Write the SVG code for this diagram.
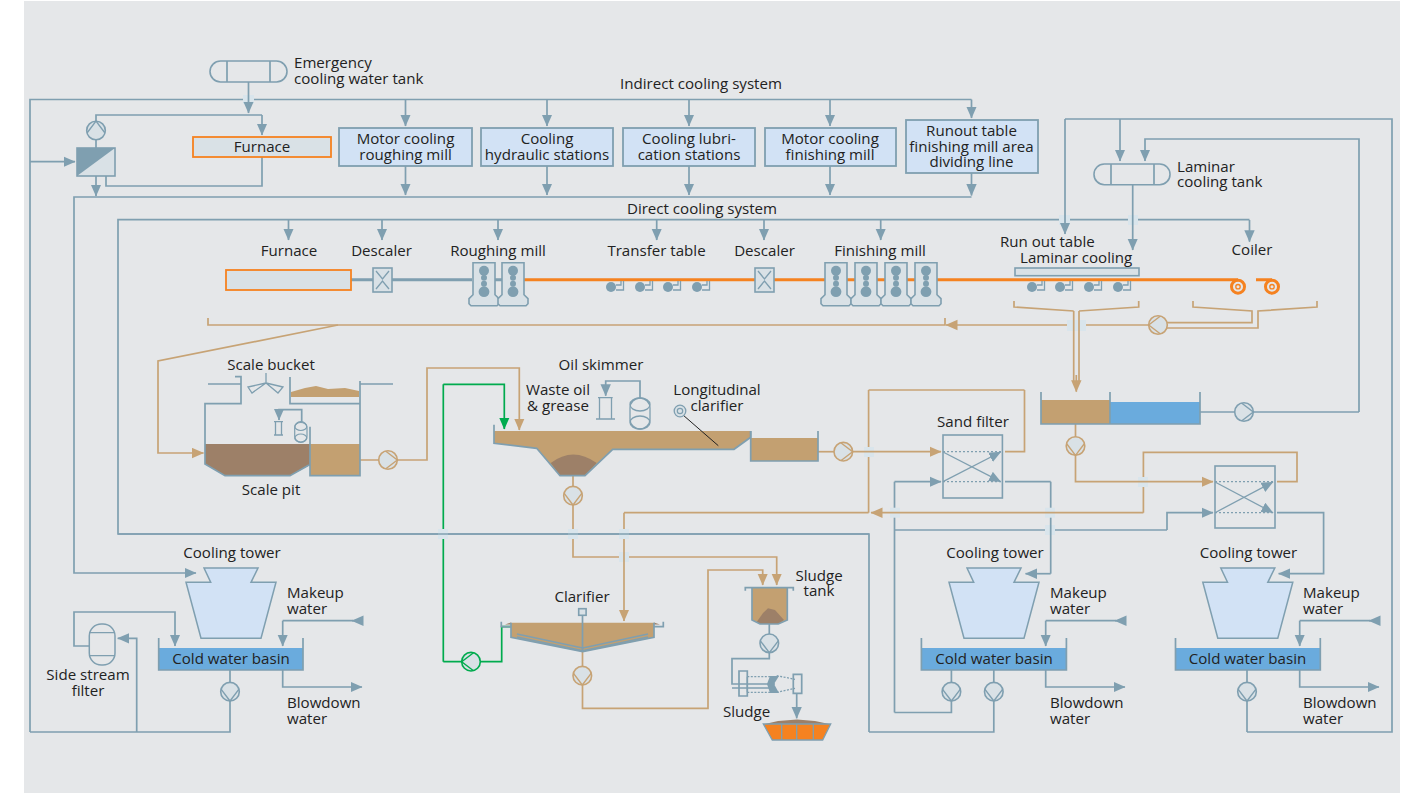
<svg xmlns="http://www.w3.org/2000/svg" width="1410" height="793" viewBox="0 0 1410 793">
<style>
text{font-family:"Open Sans","Noto Sans","Liberation Sans",sans-serif;font-size:15.1px;fill:#222}
.m{text-anchor:middle}
.b,.o,.g,.t{fill:none;stroke-width:1.7;stroke-linejoin:miter}
.b{stroke:#7f9fb0}.o{stroke:#c7a375}.g{stroke:#00ab4e}.t{stroke:#7f9fb0;stroke-width:1.3}
.ab{marker-end:url(#ab)}.ao{marker-end:url(#ao)}.ag{marker-end:url(#ag)}
.x{fill:#d9e5ec}
.box{fill:#d2e2f5;stroke:#7f9fb0;stroke-width:1.8}
.lt{fill:#d9e1e6;stroke:#7f9fb0;stroke-width:1.6}
.fu{fill:#d9e1e6;stroke:#f58220;stroke-width:1.8}
.tw{fill:#d2e2f5;stroke:#7f9fb0;stroke-width:1.5}
.br{fill:#c3a071}.dk{fill:#9d8068}.wt{fill:#6aabdd}
.roll{fill:#7f9fb0}
.pp{fill:#d9e1e6;stroke-width:1.6}
</style>
<defs>
<marker id="ab" markerUnits="userSpaceOnUse" markerWidth="13" markerHeight="12" refX="11.5" refY="5.5" orient="auto"><path d="M0,0.3L12,5.5L0,10.7Z" fill="#7f9fb0"/></marker>
<marker id="ao" markerUnits="userSpaceOnUse" markerWidth="13" markerHeight="12" refX="11.5" refY="5.5" orient="auto"><path d="M0,0.3L12,5.5L0,10.7Z" fill="#c7a375"/></marker>
<marker id="ag" markerUnits="userSpaceOnUse" markerWidth="13" markerHeight="12" refX="11.5" refY="5.5" orient="auto"><path d="M0,0.3L12,5.5L0,10.7Z" fill="#00ab4e"/></marker>
<g id="pb"><circle r="9.3" class="pp" stroke="#7f9fb0"/><path d="M-2.5,-9L9.3,0L-2.5,9" fill="none" stroke="#7f9fb0" stroke-width="1.4"/></g>
<g id="po"><circle r="9.3" class="pp" stroke="#c7a375"/><path d="M-2.5,-9L9.3,0L-2.5,9" fill="none" stroke="#c7a375" stroke-width="1.4"/></g>
<g id="pg"><circle r="9.3" class="pp" stroke="#00ab4e"/><path d="M-2.5,-9L9.3,0L-2.5,9" fill="none" stroke="#00ab4e" stroke-width="1.4"/></g>
<g id="mill"><path d="M-11,-17H11V15L15,19V24L13,26H-13L-15,24V19L-11,15Z" class="lt"/><circle cy="-9" r="5" class="roll"/><circle cy="-2" r="3" class="roll"/><circle cy="4" r="3" class="roll"/><circle cy="12" r="5.4" class="roll"/></g>
<g id="rt"><circle r="5" class="roll"/><path d="M5,-2H10V-6M5,3H12.5V-6" class="t"/></g>
<g id="tower"><path d="M204,568H258L251,582.3H276L261,638.3H201L186,582.3H210.7Z" class="tw"/></g>
</defs>
<rect width="1410" height="793" fill="#fff"/>
<rect x="24" y="1" width="1376" height="792" fill="#e5e7e9"/>

<g id="connectors">
<!-- lines that pass beneath a crossing -->
<path class="b" d="M30,732V99.5H971.5"/>
<path class="b ab" d="M971.5,197H74V573H196"/>
<path class="b" d="M869,732V534H118V219.7H1249.5"/>
<path class="o ao" d="M1149,325H946"/>
<path class="o" d="M624,512.7V552"/>
<path class="o" d="M868.6,390V512.7"/>
<path class="o" d="M208,318V325H945V318"/>
<path class="g" d="M443.3,661.7V384.3"/>
<path class="o ao" d="M573,476V557H776.7V585"/>
<path class="b" d="M1050.7,481.7V573.7"/>
<path class="b" d="M894.5,712.5V481.7"/>
<path class="b" d="M894.5,530H1167"/>
<path class="o" d="M1143.4,512.7V452.3H1297V481.7H1277"/>
<!-- crossing patches -->
<g class="x">
<rect x="243" y="95" width="11" height="9"/>
<rect x="1059" y="215" width="11" height="10"/>
<rect x="1128" y="215" width="10" height="10"/>
<rect x="1067" y="320" width="19" height="11"/>
<rect x="438" y="529" width="10" height="10"/>
<rect x="568" y="529" width="10" height="10"/>
<rect x="619" y="529" width="10" height="10"/>
<rect x="619" y="552" width="10" height="10"/>
<rect x="864" y="447" width="10" height="10"/>
<rect x="890" y="507.7" width="10" height="10"/>
<rect x="1045" y="507.7" width="10" height="10"/>
<rect x="1045" y="525" width="10" height="10"/>
<rect x="1138" y="477" width="10" height="10"/>
</g>
<!-- lines that pass over a crossing -->
<path class="b ab" d="M248.5,82V113"/>
<path class="b ab" d="M1065,119V234"/>
<path class="b ab" d="M1132.7,185V250"/>
<path class="o" d="M1073.7,311V381M1079,311V381"/>
<path class="o ao" d="M1076.3,375V391.7"/>
<path class="b" d="M118,534H869"/>
<path class="g ag" d="M443.3,384.3H504.3V429"/>
<path class="o" d="M624,512.7H868.6"/>
<path class="o ao" d="M624,552V621"/>
<path class="o ao" d="M851,451.7H941"/>
<path class="b ab" d="M894.5,481.7H941"/>
<path class="o ao" d="M1143.4,512.7H871"/>
<path class="b ab" d="M1167,530V512.7H1213"/>
<path class="o ao" d="M1075.5,424V481.7H1213"/>
<path class="b" d="M1050.7,525V535"/>
<path class="b" d="M1024.5,390H868.6" style="stroke:#c7a375"/>
<!-- the rest -->
<path class="b" d="M96,140V115H262"/><path class="b ab" d="M262,115V135"/>
<path class="b" d="M96,121V148"/>
<path class="b ab" d="M30,161.7H75"/>
<path class="b ab" d="M96,176V196"/>
<path class="b" d="M106,176V186H262V157"/>
<path class="b ab" d="M405.5,99.5V126"/><path class="b ab" d="M547,99.5V126"/><path class="b ab" d="M689,99.5V126"/><path class="b ab" d="M830,99.5V126"/><path class="b ab" d="M971.5,99.5V118"/>
<path class="b ab" d="M405.5,166V195"/><path class="b ab" d="M547,166V195"/><path class="b ab" d="M689,166V195"/><path class="b ab" d="M830,166V195"/><path class="b ab" d="M971.5,173V195.5"/>
<path class="b ab" d="M288.5,220V240"/><path class="b ab" d="M382,220V240"/><path class="b ab" d="M498,220V240"/><path class="b ab" d="M656.7,220V240"/><path class="b ab" d="M764,220V240"/><path class="b ab" d="M880.7,220V240"/><path class="b ab" d="M1249.5,220V241.7"/>
<path class="b" d="M1065,119H1392V732H1247"/>
<path class="b ab" d="M1120,119V161"/>
<path class="b ab" d="M1359,412V139H1145V161"/>
<path class="b" d="M1200,412H1359"/>
<path class="o" d="M1014,301V307L1073.7,311M1138.7,301V307L1079,311"/>
<path class="o" d="M1158,322.7H1252V311L1193,307V301M1158,328H1258V311L1317,307V301"/>
<path class="o ao" d="M338,325L158,361V453H203.5"/>
<path class="o ao" d="M360,460H427V368H519.3V430"/>
<path class="o" d="M818,451.7H834"/>
<path class="o" d="M1005,451.7H1024.5V390"/>
<path class="b" d="M1005,481.7H1050.7"/>
<path class="b ab" d="M1050.7,573.7H1025.5"/>
<path class="b ab" d="M1277,512.7H1323.6V573.7H1278.6"/>
<path class="b" d="M894.5,712.5H951.4V670"/>
<path class="b" d="M869,732H993.8V670"/>
<path class="b" d="M30,732H230V670"/>
<path class="b" d="M1247,670V732"/>
<path class="b ab" d="M136.7,732V638.3H117.7"/>
<path class="b ab" d="M89,646H74V612H175V646"/>
<path class="b" d="M352.7,620.7H282.7"/><path class="b ab" d="M282.7,620.7V646"/><path class="b ab" d="M362.5,620.7H352"/>
<path class="b ab" d="M282.7,670V687H362"/>
<path class="b" d="M1115.7,620.7H1045.7"/><path class="b ab" d="M1045.7,620.7V646"/><path class="b ab" d="M1125.5,620.7H1115"/>
<path class="b ab" d="M1045.7,670V687H1125"/>
<path class="b" d="M1369.7,620.7H1299.7"/><path class="b ab" d="M1299.7,620.7V646"/><path class="b ab" d="M1379.5,620.7H1369"/>
<path class="b ab" d="M1299.7,670V687H1379"/>
<path class="g" d="M443.3,661.7H501.7V626.7H511"/>
<path class="o ao" d="M582.5,652V708.3H708V570H762.7V585"/>
<path class="b" d="M769.3,624V658.7H732V684H775"/>
<path class="b ab" d="M796.7,693V718.3"/>
<path class="b ab" d="M640,398V381H605.7V395.7"/>
<path class="b ab" d="M301.7,422V409.7H279V420"/>
</g>

<g id="emergency-tank"><rect x="210" y="61" width="77" height="21" rx="10.5" fill="#e5e7e9" stroke="#7f9fb0" stroke-width="1.6"/><path class="b" d="M227,61V82M270,61V82"/><text x="294" y="68">Emergency</text><text x="294" y="83.5">cooling water tank</text></g>
<g id="indirect-label"><text class="m" x="701" y="89">Indirect cooling system</text></g>
<g id="direct-label"><text class="m" x="702" y="214">Direct cooling system</text></g>
<g id="cooler-pump"><use href="#pb" transform="translate(96,130.5) rotate(-90)"/></g>
<g id="heat-exchanger"><rect x="77" y="148" width="38" height="28" class="lt"/><path d="M77,148H115L77,176Z" fill="#7f9fb0"/></g>
<g id="furnace-top"><rect x="193" y="137" width="138" height="20" class="fu"/><text class="m" x="262" y="152">Furnace</text></g>
<g id="motor-roughing"><rect x="339" y="128" width="133" height="38" class="box"/><text class="m" x="405.5" y="144">Motor cooling</text><text class="m" x="405.5" y="160">roughing mill</text></g>
<g id="hydraulic"><rect x="481" y="128" width="132" height="38" class="box"/><text class="m" x="547" y="144">Cooling</text><text class="m" x="547" y="160">hydraulic stations</text></g>
<g id="lubrication"><rect x="623" y="128" width="132" height="38" class="box"/><text class="m" x="689" y="144">Cooling lubri-</text><text class="m" x="689" y="160">cation stations</text></g>
<g id="motor-finishing"><rect x="765" y="128" width="131" height="38" class="box"/><text class="m" x="830" y="144">Motor cooling</text><text class="m" x="830" y="160">finishing mill</text></g>
<g id="runout"><rect x="906" y="120" width="132" height="53" class="box"/><text class="m" x="971.5" y="135.5">Runout table</text><text class="m" x="971.5" y="151.5">finishing mill area</text><text class="m" x="971.5" y="167">dividing line</text></g>

<g id="rolling-line">
<path d="M351,279.7H472M495,279.7H502" stroke="#7f9fb0" stroke-width="3" fill="none"/>
<path d="M524,279.7H1238M1256,279.7H1272" stroke="#f58220" stroke-width="3" fill="none"/>
</g>
<g id="furnace-line"><rect x="226" y="270" width="125" height="20" class="fu"/><text class="m" x="289" y="255.7">Furnace</text></g>
<g id="descaler-1"><rect x="373" y="268" width="19" height="24" class="lt"/><path class="t" d="M376,271L382.5,279L389,271M376,289L382.5,281L389,289"/><text class="m" x="381.5" y="255.7">Descaler</text></g>
<g id="roughing-mill"><use href="#mill" x="484" y="279.7"/><use href="#mill" x="513" y="279.7"/><text class="m" x="498" y="255.7">Roughing mill</text></g>
<g id="transfer-table"><use href="#rt" x="611" y="287"/><use href="#rt" x="640" y="287"/><use href="#rt" x="668" y="287"/><use href="#rt" x="697" y="287"/><text class="m" x="656.5" y="255.7">Transfer table</text></g>
<g id="descaler-2"><rect x="755" y="268" width="19" height="24" class="lt"/><path class="t" d="M758,271L764.5,279L771,271M758,289L764.5,281L771,289"/><text class="m" x="764.5" y="255.7">Descaler</text></g>
<g id="finishing-mill"><use href="#mill" x="836" y="279.7"/><use href="#mill" x="866" y="279.7"/><use href="#mill" x="896" y="279.7"/><use href="#mill" x="926" y="279.7"/><text class="m" x="880" y="255.7">Finishing mill</text></g>
<g id="laminar-cooling"><rect x="1015" y="268" width="124" height="7.7" class="lt"/><use href="#rt" x="1032" y="287"/><use href="#rt" x="1060" y="287"/><use href="#rt" x="1089" y="287"/><use href="#rt" x="1118" y="287"/><text x="1000" y="246.7">Run out table</text><text x="1020" y="263">Laminar cooling</text></g>
<g id="coiler"><circle cx="1238" cy="286.7" r="6.5" fill="none" stroke="#f58220" stroke-width="3"/><circle cx="1238" cy="286.7" r="2.2" fill="none" stroke="#f58220" stroke-width="1.3"/><circle cx="1272" cy="286.7" r="6.5" fill="none" stroke="#f58220" stroke-width="3"/><circle cx="1272" cy="286.7" r="2.2" fill="none" stroke="#f58220" stroke-width="1.3"/><text class="m" x="1252" y="255.3">Coiler</text></g>
<g id="laminar-tank"><rect x="1094" y="164" width="76" height="20.7" rx="10.3" fill="#e5e7e9" stroke="#7f9fb0" stroke-width="1.6"/><path class="b" d="M1111,164V184.7M1154,164V184.7"/><text x="1177" y="171.7">Laminar</text><text x="1177" y="187.3">cooling tank</text></g>
<g id="return-pump"><use href="#po" transform="translate(1158,325) rotate(180)"/></g>
<g id="settling-tank"><rect x="1041" y="400" width="69" height="24" class="br"/><rect x="1110" y="402" width="90" height="22" class="wt"/><path class="b" d="M1041,392V424H1200V392M1110,392V424" stroke-width="1.8"/></g>
<g id="settling-pumps"><use href="#pb" transform="translate(1244,412)"/><use href="#po" transform="translate(1075.5,446) rotate(90)"/></g>

<g id="scale-pit">
<path class="dk" d="M205,444H310V465L290,475.7H225L205,464Z"/>
<rect x="310" y="444" width="50" height="31.7" class="br"/>
<path class="b" d="M235,376.7H241V403.7H205V464L225,475.7H290L309,465M310,426.7V475.7H360V381M208,384H241M360,384H393"/>
<path class="br" d="M291,392L305,388L316,386L328,389L345,388L359,391V397H291Z"/>
<path class="b" d="M290,377V403.7H360"/>
<path class="t" d="M266,373V383M266,383L248,387L252,393ZM266,383L283,387L278,393Z"/>
<path class="t" d="M274,421.7H283M274,435H283M275.5,421.7V435M281.5,421.7V435"/>
<rect x="294.7" y="421.7" width="12.3" height="20.6" rx="6" fill="none" stroke="#7f9fb0" stroke-width="1.2"/>
<ellipse cx="300.8" cy="426.5" rx="6" ry="4" fill="none" stroke="#7f9fb0" stroke-width="1.2"/><ellipse cx="300.8" cy="438" rx="6" ry="4" fill="none" stroke="#7f9fb0" stroke-width="1.2"/>
<text class="m" x="271" y="369.5">Scale bucket</text><text class="m" x="271" y="495">Scale pit</text>
</g>
<g id="pit-pump"><use href="#po" transform="translate(388,460)"/></g>

<g id="longitudinal-clarifier">
<path class="br" d="M494,431H750.7V437.3L734,449.3H612.7L585,475.7H560L536.7,448.3L494,443.3Z"/>
<path class="dk" d="M550.7,463Q573,446 596.7,463L585,475.7H560Z"/>
<path class="b" stroke-width="1.8" d="M494,424.7V443.3L536.7,448.3L560,475.7H585L612.7,449.3H734L750.7,437.3V431"/>
<rect x="750.7" y="438" width="67.3" height="23" class="br"/>
<path class="b" d="M750.7,431V461H818V431"/>
<path stroke="#222" stroke-width="1" d="M683,415L718.3,445.7"/>
<circle cx="680" cy="411" r="5.8" fill="#d9e1e6" stroke="#7f9fb0" stroke-width="1.3"/><circle cx="680" cy="411" r="2.7" fill="none" stroke="#7f9fb0" stroke-width="1.2"/>
<text class="m" x="717" y="395">Longitudinal</text><text class="m" x="717" y="411">clarifier</text>
</g>
<g id="oil-skimmer">
<path class="t" d="M598,397.7H612.7M596,419H615M599.5,397.7V419M611.5,397.7V419"/>
<rect x="630" y="398" width="20" height="31" rx="10" fill="none" stroke="#7f9fb0" stroke-width="1.3"/>
<ellipse cx="640" cy="404.5" rx="10" ry="6.5" fill="none" stroke="#7f9fb0" stroke-width="1.3"/><ellipse cx="640" cy="422.5" rx="10" ry="6.5" fill="none" stroke="#7f9fb0" stroke-width="1.3"/>
<text class="m" x="601" y="370">Oil skimmer</text><text class="m" x="558" y="394.5">Waste oil</text><text class="m" x="558" y="410.5">&amp; grease</text>
</g>
<g id="clarifier-pumps"><use href="#po" transform="translate(843.3,451.7)"/><use href="#po" transform="translate(573,495.7) rotate(90)"/></g>

<g id="sand-filter-1"><rect x="943" y="435" width="59.4" height="63" fill="#e5e7e9" stroke="#7f9fb0" stroke-width="1.6"/><path d="M943,451.7H1002M943,481.7H1002" class="t" stroke-width="1.5" stroke-dasharray="2 2"/><path class="t ab" d="M943,452L1000.7,481.7"/><path class="t ab" d="M943,481.7L1000.7,452"/><text class="m" x="973" y="426.7">Sand filter</text></g>
<g id="sand-filter-2"><rect x="1215" y="466" width="60" height="62" fill="#e5e7e9" stroke="#7f9fb0" stroke-width="1.6"/><path d="M1215,481.7H1275M1215,512.7H1275" class="t" stroke-width="1.5" stroke-dasharray="2 2"/><path class="t ab" d="M1215,482L1273,512.7"/><path class="t ab" d="M1215,512.7L1273,482"/></g>

<g id="tower-a"><use href="#tower"/><text class="m" x="232" y="558.3">Cooling tower</text><text x="287" y="597.7">Makeup</text><text x="287" y="613.7">water</text><text x="287" y="708">Blowdown</text><text x="287" y="723.7">water</text></g>
<g id="basin-a"><rect x="158.7" y="648" width="144.3" height="22" class="wt"/><path class="b" d="M158.7,638V670H303V638"/><text class="m" x="231" y="664">Cold water basin</text><use href="#pb" transform="translate(230,691.7) rotate(90)"/></g>
<g id="side-stream-filter"><rect x="89.3" y="624" width="25.7" height="41" rx="12" fill="#e5e7e9" stroke="#7f9fb0" stroke-width="1.5"/><path class="t" d="M89.3,632.7H115M89.3,655.7H115"/><text class="m" x="88" y="680">Side stream</text><text class="m" x="88" y="695.7">filter</text></g>

<g id="tower-b"><use href="#tower" x="763"/><text class="m" x="995" y="558.3">Cooling tower</text><text x="1050" y="597.7">Makeup</text><text x="1050" y="613.7">water</text><text x="1050" y="708">Blowdown</text><text x="1050" y="723.7">water</text></g>
<g id="basin-b"><rect x="921.4" y="648" width="145" height="22" class="wt"/><path class="b" d="M921.4,638V670H1066.4V638"/><text class="m" x="994" y="664">Cold water basin</text><use href="#pb" transform="translate(951.4,691.7) rotate(90)"/><use href="#pb" transform="translate(993.8,691.7) rotate(90)"/></g>
<g id="tower-c"><use href="#tower" x="1016.8"/><text class="m" x="1248.5" y="558.3">Cooling tower</text><text x="1303" y="597.7">Makeup</text><text x="1303" y="613.7">water</text><text x="1303" y="708">Blowdown</text><text x="1303" y="723.7">water</text></g>
<g id="basin-c"><rect x="1175.5" y="648" width="144.8" height="22" class="wt"/><path class="b" d="M1175.5,638V670H1320.3V638"/><text class="m" x="1247.5" y="664">Cold water basin</text><use href="#pb" transform="translate(1247,691.7) rotate(90)"/></g>

<g id="clarifier">
<path class="br" d="M511,622.7H654V637.3L582.7,651.7L511,637.3Z"/>
<path class="dk" d="M505,624.5L511,622.5V624.5ZM654,622.5L660,624.5H654Z"/>
<path class="b" d="M501.3,621.7V626.7H511M663.3,621.7V626.7H654M511,622.7V637.3L582.7,651.7L654,637.3V622.7"/>
<path class="t" d="M517,634L582.7,648L648,634M517,637L582.7,650.7L648,637"/>
<rect x="578.7" y="608.7" width="7.4" height="6.6" class="lt"/><path class="b" d="M582.5,615.3V652"/>
<text class="m" x="582" y="601.7">Clarifier</text>
</g>
<g id="clarifier-side-pumps"><use href="#pg" transform="translate(471,661.7) rotate(180)"/><use href="#po" transform="translate(582.3,675.7) rotate(90)"/></g>
<g id="sludge-tank">
<path class="br" d="M752,587.7H787.3V620L778.3,624H760L752,620Z"/>
<path class="dk" d="M756.7,622L763,613L768,608.3L775,610L784,620L778.3,624H760Z"/>
<path class="b" stroke-width="1.8" d="M745.3,590.7V587.7H793.3V590.7M752,587.7V620L760,624H778.3L787.3,620V587.7"/>
<text class="m" x="819" y="580.7">Sludge</text><text class="m" x="819" y="596">tank</text><use href="#pb" transform="translate(769.3,643.3) rotate(90)"/>
</g>
<g id="centrifuge">
<path class="b" d="M747.3,671H739V696H747.3ZM793.3,674.3H801.7V693.3H793.3Z"/>
<path class="t" stroke-dasharray="2 1.5" stroke-width="3" d="M747.3,676.7H775M747.3,692.3H775M776.7,675.7L795,679.3M776.7,692.3L795,688.3"/>
<path class="t" d="M747.3,676.7V692.3M732,688H770"/>
<path fill="#7f9fb0" d="M770,676L779,676L774,684L779,693L770,693L767,684Z"/>
<text x="723" y="716.7">Sludge</text>
</g>
<g id="sludge-container">
<path class="dk" d="M765,724L778,721L797,719.5L815,721L829,724Z"/>
<path d="M763.3,724H830.7L822.7,740H772.3Z" fill="#f58220" stroke="#7f9fb0" stroke-width="1.3"/>
<path class="t" d="M781.7,724V740M796.7,724V740M813.3,724V740"/>
</g>
</svg>
